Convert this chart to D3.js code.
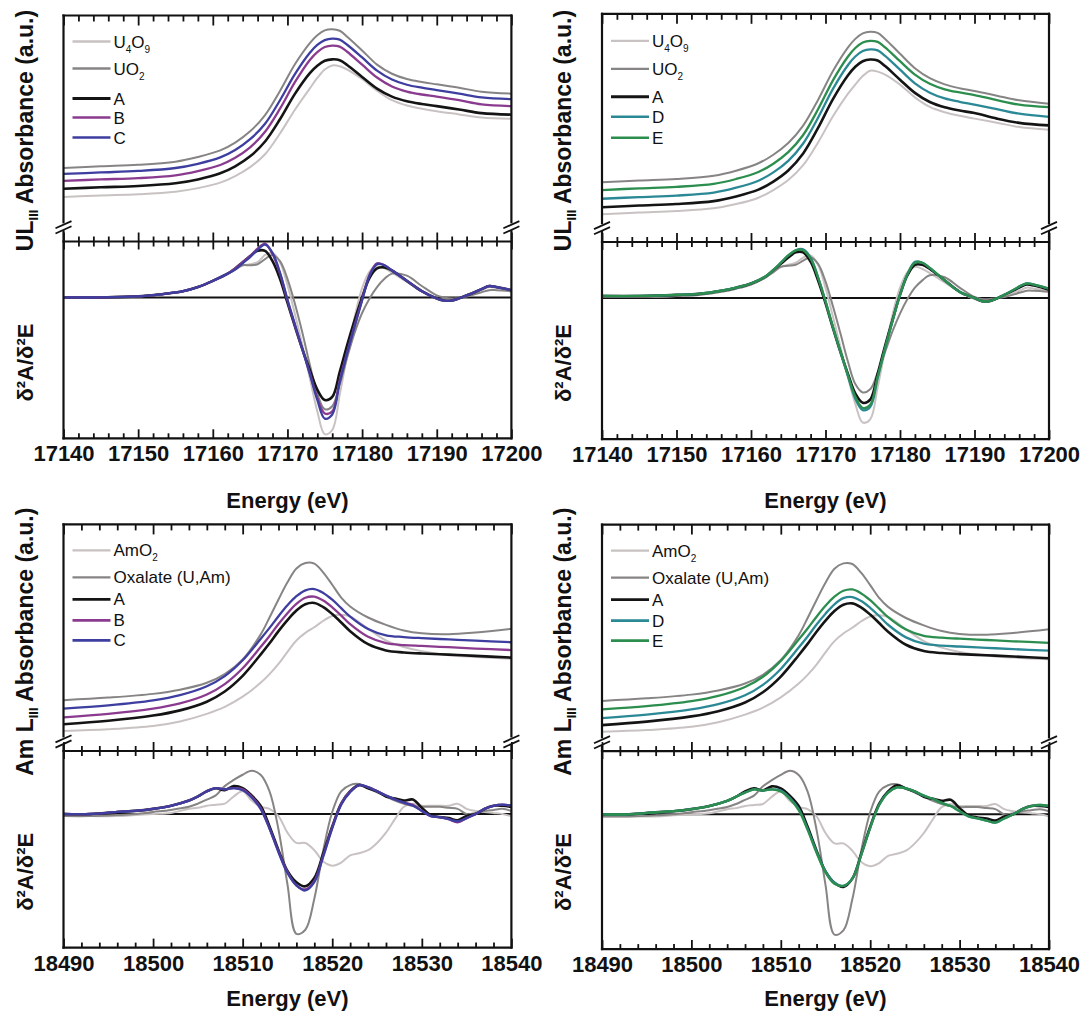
<!DOCTYPE html>
<html><head><meta charset="utf-8">
<script src="https://cdn.jsdelivr.net/npm/d3@7"></script>
<style>
body{margin:0;background:#fff;}
svg{display:block;}
</style></head><body>
<svg id="chart" width="1082" height="1012"></svg>
<script>
// ================= DATA =================
// U L-III edge, absorbance (a.u.)
const energyU = [17140,17145,17150,17155,17158,17161,17163,17165,17167,17169,17171,17173,17174,17175,17176,17177,17178,17180,17182,17184,17186,17188,17190,17193,17196,17200];
const absU4O9_L = [14.3,15.0,15.6,16.8,18.5,21.1,24.2,28.4,34.5,44.3,55.5,65.6,70.5,74.5,76.4,76.0,74.5,70.0,64.5,60.0,57.5,56.0,54.8,53.3,51.8,51.2];
const absUO2_L  = [28.0,28.8,29.5,31.0,33.2,36.3,40.0,45.3,53.0,64.4,77.0,87.0,90.7,93.0,93.5,92.8,90.0,83.5,76.8,72.5,70.0,68.6,67.5,65.9,64.0,63.1];
const absA_L    = [18.2,18.9,19.5,20.8,22.6,25.5,28.8,33.5,40.5,51.0,63.0,72.8,76.3,78.6,79.3,78.9,76.6,71.0,65.5,61.7,59.5,58.2,57.2,55.6,53.9,53.2];
const absB_L    = [21.9,22.6,23.2,24.5,26.5,29.4,32.8,37.7,45.1,56.0,68.5,79.0,82.7,85.1,85.8,85.3,82.9,76.8,70.7,66.5,64.1,62.7,61.7,60.0,58.0,57.2];
const absC_L    = [25.2,25.9,26.6,28.0,30.0,33.0,36.5,41.6,48.9,60.0,72.3,82.4,86.1,88.4,89.1,88.6,86.2,80.2,74.0,69.8,67.3,65.9,64.8,63.1,61.3,60.5];
const absU4O9_R = [6.5,7.3,8.0,9.3,11.3,14.3,17.9,22.6,29.6,40.3,52.6,63.1,67.5,71.5,74.0,73.6,72.2,67.5,61.5,57.0,54.5,52.8,51.5,49.6,47.5,46.3];
const absUO2_R  = [21.6,22.4,23.1,24.6,27.0,30.5,34.5,40.0,48.2,60.3,73.9,84.9,89.0,91.6,92.4,91.8,89.0,82.0,75.2,70.5,67.6,65.8,64.5,62.3,60.1,58.5];
const absA_R    = [9.8,10.6,11.3,12.7,14.9,18.1,21.9,27.1,35.1,47.1,60.7,71.8,75.9,78.5,79.3,78.8,76.2,69.8,63.6,59.3,56.8,55.3,54.1,51.5,49.5,48.3];
const absD_R    = [13.8,14.6,15.3,16.7,19.0,22.3,26.2,31.6,39.8,51.9,65.5,76.6,80.7,83.3,84.1,83.6,81.0,74.5,68.1,63.7,61.0,59.4,58.1,56.0,53.8,52.3];
const absE_R    = [17.9,18.7,19.4,20.8,23.1,26.4,30.3,35.7,43.8,55.9,69.5,80.6,84.7,87.3,88.1,87.6,85.0,78.5,72.2,67.9,65.3,63.8,62.6,60.2,58.1,56.9];

// U L-III edge, second derivative
const energyUd = [17140,17145,17150,17153,17156,17158,17160,17162,17163,17164,17165,17166,17167,17168,17169,17170,17171,17172,17173,17174,17175,17176,17177,17178,17179,17180,17181,17182,17183,17184,17186,17188,17190,17191,17192,17194,17196,17197,17198,17200];
const derU4O9_L = [0.0,0.0,0.1,0.3,0.6,1.0,1.6,2.3,2.7,3.1,3.2,3.4,4.1,4.3,3.4,1.2,-1.6,-4.6,-7.8,-11.0,-13.2,-12.8,-9.4,-5.6,-1.9,0.9,2.5,3.0,2.8,2.4,1.5,0.6,-0.1,-0.3,-0.3,0.2,0.7,1.0,0.9,0.7];
const derUO2_L  = [0.0,0.0,0.1,0.3,0.6,1.0,1.6,2.3,2.7,3.1,3.1,3.2,3.7,4.1,3.5,1.8,-0.6,-3.4,-6.5,-9.3,-10.8,-10.5,-8.4,-5.8,-3.4,-1.5,-0.1,1.0,1.8,2.3,2.1,1.1,0.2,0.0,-0.1,0.1,0.5,0.7,0.7,0.6];
const derA_L    = [0.0,0.0,0.1,0.3,0.6,1.0,1.6,2.3,2.8,3.4,4.0,4.5,4.5,3.5,1.8,-0.5,-2.8,-5.0,-7.0,-8.9,-9.9,-9.6,-7.2,-4.6,-2.2,0.0,1.9,2.8,2.9,2.6,1.6,0.6,-0.1,-0.3,-0.3,0.2,0.8,1.1,1.0,0.7];
const derB_L    = [0.0,0.0,0.1,0.3,0.6,1.0,1.6,2.3,2.8,3.4,4.0,4.7,5.2,4.2,2.3,-0.3,-2.7,-5.0,-7.3,-9.7,-11.2,-11.0,-8.0,-5.3,-2.7,-0.2,2.2,3.3,3.1,2.6,1.6,0.6,-0.1,-0.3,-0.3,0.2,0.8,1.1,1.0,0.7];
const derC_L    = [0.0,0.0,0.1,0.3,0.6,1.0,1.6,2.3,2.7,3.3,3.9,4.6,5.1,4.3,2.4,-0.2,-2.6,-5.0,-7.4,-9.9,-11.7,-11.3,-8.2,-5.4,-2.8,-0.3,2.1,3.2,3.1,2.6,1.6,0.6,-0.1,-0.3,-0.3,0.2,0.8,1.1,1.0,0.7];
const derU4O9_R = [0.1,0.1,0.2,0.3,0.6,0.9,1.3,2.0,2.5,3.0,3.2,3.4,3.9,4.1,3.2,1.0,-1.8,-4.7,-7.6,-10.2,-12.0,-11.7,-8.6,-5.0,-1.6,1.0,2.5,3.0,2.8,2.4,1.5,0.6,-0.1,-0.3,-0.3,0.2,0.7,1.0,0.9,0.7];
const derUO2_R  = [0.1,0.1,0.2,0.3,0.6,0.9,1.3,2.0,2.5,3.0,3.1,3.2,3.6,3.9,3.3,1.6,-0.8,-3.4,-6.1,-8.3,-9.1,-8.8,-7.2,-5.2,-3.2,-1.5,-0.1,1.0,1.7,2.2,2.0,1.0,0.1,-0.1,-0.1,0.1,0.5,0.7,0.7,0.6];
const derA_R    = [0.2,0.2,0.3,0.4,0.7,1.0,1.4,2.1,2.7,3.3,3.9,4.4,4.4,3.5,1.7,-0.5,-2.9,-5.2,-7.3,-9.2,-10.1,-9.8,-7.3,-4.6,-2.1,0.3,2.2,3.2,3.2,2.8,1.7,0.6,0.0,-0.3,-0.3,0.3,1.0,1.3,1.2,0.8];
const derD_R    = [0.2,0.2,0.3,0.4,0.7,1.0,1.4,2.1,2.7,3.4,4.1,4.6,4.7,3.9,2.0,-0.3,-2.8,-5.2,-7.5,-9.7,-10.8,-10.5,-7.7,-4.9,-2.2,0.3,2.3,3.5,3.4,2.9,1.7,0.6,0.0,-0.3,-0.3,0.3,1.1,1.4,1.3,0.9];
const derE_R    = [0.2,0.2,0.3,0.4,0.7,1.0,1.4,2.1,2.7,3.4,4.1,4.6,4.6,3.8,2.0,-0.3,-2.8,-5.1,-7.4,-9.5,-10.6,-10.3,-7.6,-4.8,-2.2,0.3,2.3,3.4,3.4,2.9,1.7,0.6,0.0,-0.3,-0.3,0.3,1.1,1.4,1.3,0.9];

// Am L-III edge, absorbance (a.u.)
const energyAm = [18490,18495,18500,18503,18506,18508,18510,18512,18513,18514,18515,18516,18517,18518,18519,18520,18521,18522,18524,18526,18528,18530,18533,18536,18540];
const absAmO2     = [4.8,5.6,7.1,9.2,12.7,15.9,20.6,27.0,31.0,35.7,41.3,46.5,50.0,52.6,55.6,57.8,58.4,57.6,52.0,46.5,43.5,41.5,39.7,38.9,38.1];
const absOxalate  = [19.0,20.2,21.9,23.8,27.0,31.0,37.8,49.2,57.1,65.4,73.3,79.7,82.2,81.9,77.8,72.2,66.3,62.2,57.1,53.7,51.1,49.8,49.4,50.2,51.9];
const absA_Am     = [7.9,9.5,11.9,14.3,18.3,23.0,30.2,40.0,45.2,50.8,55.9,60.3,63.2,63.8,61.9,58.7,54.8,50.8,44.8,41.9,41.0,40.5,40.0,39.4,38.6];
const absB_Am     = [11.1,12.7,15.1,17.5,21.6,26.4,33.7,43.5,48.6,54.1,59.1,63.4,66.2,66.7,64.9,61.8,58.0,54.0,48.2,45.3,44.4,44.0,43.4,42.8,42.1];
const absC_Am     = [15.1,16.6,18.9,21.3,25.4,30.1,37.4,47.2,52.3,57.7,62.7,66.9,69.6,70.2,68.4,65.3,61.4,57.5,51.8,48.9,48.1,47.6,47.0,46.4,45.7];
const absD_Am     = [11.1,12.7,15.1,17.5,21.6,26.4,33.7,43.5,48.6,54.1,59.1,63.4,66.2,66.7,64.9,61.8,58.0,54.0,48.2,45.3,44.4,44.0,43.4,42.8,42.1];
const absE_Am     = [15.1,16.6,18.9,21.3,25.4,30.1,37.4,47.2,52.3,57.7,62.7,66.9,69.6,70.2,68.4,65.3,61.4,57.5,51.8,48.9,48.1,47.6,47.0,46.4,45.7];

// Am L-III edge, second derivative
const energyAmd = [18490,18493,18496,18498,18500,18502,18504,18505,18506,18507,18508,18509,18510,18511,18512,18513,18514,18515,18516,18517,18518,18519,18520,18521,18522,18523,18524,18525,18526,18527,18528,18529,18530,18531,18532,18533,18534,18535,18536,18537,18538,18539,18540];
const derAmO2    = [-0.2,-0.2,-0.2,-0.1,0.0,0.1,0.5,0.6,0.8,0.9,1.0,1.7,2.2,1.3,0.7,0.5,-0.2,-1.8,-2.8,-2.8,-3.5,-4.6,-5.0,-4.7,-4.0,-3.8,-3.5,-2.8,-1.8,-0.5,0.7,1.0,0.8,0.8,0.8,0.8,1.0,0.5,0.3,0.2,0.1,0.0,-0.2];
const derOxalate = [-0.2,-0.2,-0.1,0.0,0.2,0.4,0.7,1.0,1.4,1.8,2.7,3.3,3.8,4.2,3.8,2.2,-1.5,-6.8,-11.6,-11.2,-8.2,-3.5,0.2,2.2,2.8,2.9,2.5,2.1,1.7,1.3,1.0,0.8,0.7,0.7,0.7,0.6,0.5,0.0,0.1,0.3,0.4,0.5,0.3];
const derA_Am    = [0.0,0.0,0.2,0.3,0.5,0.8,1.3,1.7,2.2,2.5,2.3,2.7,2.5,1.8,0.8,-1.2,-3.5,-5.5,-6.6,-7.0,-6.2,-3.8,-1.2,1.0,2.2,2.8,2.5,2.2,1.7,1.5,1.3,1.4,0.6,-0.1,-0.3,-0.4,-0.6,-0.2,0.0,0.5,0.8,0.8,0.7];
const derB_Am    = [0.0,0.0,0.2,0.3,0.5,0.8,1.3,1.7,2.2,2.5,2.4,2.5,2.4,1.7,0.6,-1.4,-3.6,-5.6,-6.9,-7.3,-6.5,-4.0,-1.3,1.0,2.2,2.8,2.6,2.2,1.8,1.4,1.1,0.9,0.3,-0.2,-0.3,-0.5,-0.8,-0.4,0.0,0.5,0.8,0.9,0.8];
const derC_Am    = [0.0,0.0,0.2,0.3,0.5,0.8,1.3,1.7,2.2,2.5,2.4,2.5,2.3,1.6,0.5,-1.4,-3.7,-5.7,-6.9,-7.4,-6.6,-4.1,-1.4,0.9,2.1,2.8,2.6,2.2,1.8,1.4,1.1,0.8,0.3,-0.2,-0.3,-0.5,-0.7,-0.4,0.0,0.5,0.8,0.9,0.8];
const derD_Am    = [0.0,0.0,0.2,0.3,0.5,0.8,1.3,1.7,2.1,2.4,2.3,2.4,2.3,1.6,0.5,-1.4,-3.6,-5.5,-6.6,-6.9,-6.2,-3.9,-1.3,0.9,2.1,2.6,2.5,2.2,1.8,1.5,1.1,0.8,0.3,-0.2,-0.4,-0.6,-0.8,-0.4,0.0,0.5,0.8,0.9,0.8];
const derE_Am    = [0.0,0.0,0.2,0.3,0.5,0.8,1.3,1.7,2.1,2.4,2.3,2.4,2.2,1.5,0.4,-1.5,-3.7,-5.6,-6.7,-6.9,-6.2,-3.9,-1.3,0.9,2.1,2.6,2.5,2.2,1.8,1.5,1.1,0.8,0.3,-0.2,-0.4,-0.6,-0.8,-0.4,0.0,0.5,0.8,0.9,0.8];

// axis tick labels
const tickLabelsU  = [17140,17150,17160,17170,17180,17190,17200];
const tickLabelsAm = [18490,18500,18510,18520,18530,18540];

// ================= STYLE / LAYOUT =================
const FONT = '"Liberation Sans", Arial, Helvetica, sans-serif';
const COL = {ref1:'#c9c2c2', ref2:'#878484', A:'#141414', B:'#8b3b8f', C:'#3d3e9f', D:'#2b8996', E:'#2c8e4e'};
const W = {ref:2.0, A:2.6, s:2.3};

const panels = [
  {x0:63.5, x1:511.4, top:15.5, brk:227.3, upDom:[0,100], lTop:241.5, lBot:438.3, lowDom:[-13.6,5.4],
   xDom:[17140,17200], majors:tickLabelsU, eAbs:energyU, eDer:energyUd, xLab:508,
   yParts:[['UL',0],['III',1],[' Absorbance (a.u.)',0]], yCenter:130.5, dCenter:362.6, rows:[26,53,83,102,122],
   series:[
     {label:'U4O9', abs:absU4O9_L, der:derU4O9_L, c:COL.ref1, w:W.ref},
     {label:'UO2',  abs:absUO2_L,  der:derUO2_L,  c:COL.ref2, w:W.ref},
     {label:'A',    abs:absA_L,    der:derA_L,    c:COL.A,    w:W.A},
     {label:'B',    abs:absB_L,    der:derB_L,    c:COL.B,    w:W.s},
     {label:'C',    abs:absC_L,    der:derC_L,    c:COL.C,    w:W.s}]},
  {x0:602, x1:1049, top:13.8, brk:228.1, upDom:[0,100.8], lTop:242, lBot:439.1, lowDom:[-13.6,5.4],
   xDom:[17140,17200], majors:tickLabelsU, eAbs:energyU, eDer:energyUd, xLab:508,
   yParts:[['UL',0],['III',1],[' Absorbance (a.u.)',0]], yCenter:130.5, dCenter:363, rows:[27,55,83,103,124],
   series:[
     {label:'U4O9', abs:absU4O9_R, der:derU4O9_R, c:COL.ref1, w:W.ref},
     {label:'UO2',  abs:absUO2_R,  der:derUO2_R,  c:COL.ref2, w:W.ref},
     {label:'A',    abs:absA_R,    der:derA_R,    c:COL.A,    w:W.A},
     {label:'D',    abs:absD_R,    der:derD_R,    c:COL.D,    w:W.s},
     {label:'E',    abs:absE_R,    der:derE_R,    c:COL.E,    w:W.s}]},
  {x0:63.5, x1:511.4, top:524.4, brk:741.4, upDom:[0,100], lTop:751, lBot:947.6, lowDom:[-12.93,6.1],
   xDom:[18490,18540], majors:tickLabelsAm, eAbs:energyAm, eDer:energyAmd, xLab:1006,
   yParts:[['Am L',0],['III',1],[' Absorbance (a.u.)',0]], yCenter:641.7, dCenter:871.8, rows:[26,53,75,96,116],
   series:[
     {label:'AmO2', abs:absAmO2, der:derAmO2, c:COL.ref1, w:W.ref},
     {label:'Oxalate (U,Am)', abs:absOxalate, der:derOxalate, c:COL.ref2, w:W.ref},
     {label:'A', abs:absA_Am, der:derA_Am, c:COL.A, w:W.A},
     {label:'B', abs:absB_Am, der:derB_Am, c:COL.B, w:W.s},
     {label:'C', abs:absC_Am, der:derC_Am, c:COL.C, w:W.s}]},
  {x0:602, x1:1049, top:524.6, brk:742.3, upDom:[0,100], lTop:751.1, lBot:949.1, lowDom:[-13.0,6.1],
   xDom:[18490,18540], majors:tickLabelsAm, eAbs:energyAm, eDer:energyAmd, xLab:1006,
   yParts:[['Am L',0],['III',1],[' Absorbance (a.u.)',0]], yCenter:641.7, dCenter:872, rows:[26,53,75,96,116],
   series:[
     {label:'AmO2', abs:absAmO2, der:derAmO2, c:COL.ref1, w:W.ref},
     {label:'Oxalate (U,Am)', abs:absOxalate, der:derOxalate, c:COL.ref2, w:W.ref},
     {label:'A', abs:absA_Am, der:derA_Am, c:COL.A, w:W.A},
     {label:'D', abs:absD_Am, der:derD_Am, c:COL.D, w:W.s},
     {label:'E', abs:absE_Am, der:derE_Am, c:COL.E, w:W.s}]}
];

// ================= DRAW =================
const svg = d3.select('#chart').style('font-family', FONT);
svg.append('rect').attr('width',1082).attr('height',1012).attr('fill','#fff');

const INK = '#111';

function drawPanel(p, pi) {
  const g = svg.append('g');
  const x  = d3.scaleLinear().domain(p.xDom).range([p.x0, p.x1]);
  const yU = d3.scaleLinear().domain(p.upDom).range([p.brk, p.top]);
  const yL = d3.scaleLinear().domain(p.lowDom).range([p.lBot, p.lTop]);
  const minors = d3.range(p.xDom[0], p.xDom[1] + 0.01, 2).filter(v => v % 10 !== 0);

  const clipId = 'clipL' + pi;
  g.append('clipPath').attr('id', clipId).append('rect')
    .attr('x', p.x0).attr('y', p.lTop).attr('width', p.x1 - p.x0).attr('height', p.lBot - p.lTop);

  // zero line of derivative panel
  g.append('line').attr('x1', p.x0).attr('x2', p.x1).attr('y1', yL(0)).attr('y2', yL(0))
    .attr('stroke', INK).attr('stroke-width', 2);

  const lineU = d3.line().x((d, i) => x(p.eAbs[i])).y(d => yU(d)).curve(d3.curveCatmullRom.alpha(0.5));
  const lineL = d3.line().x((d, i) => x(p.eDer[i])).y(d => yL(d)).curve(d3.curveCatmullRom.alpha(0.5));
  p.series.forEach(s => {
    g.append('path').attr('d', lineU(s.abs)).attr('fill', 'none')
      .attr('stroke', s.c).attr('stroke-width', s.w).attr('stroke-linejoin', 'round');
  });
  const gl = g.append('g').attr('clip-path', `url(#${clipId})`);
  p.series.forEach(s => {
    gl.append('path').attr('d', lineL(s.der)).attr('fill', 'none')
      .attr('stroke', s.c).attr('stroke-width', s.w).attr('stroke-linejoin', 'round');
  });

  function ticks(axisFn, vals, size, y, labels) {
    const ax = axisFn(x).tickValues(vals).tickSize(size)
      .tickFormat(labels ? d3.format('d') : () => '').tickPadding(7.5);
    const a = g.append('g').attr('transform', `translate(0,${y})`).call(ax);
    a.select('.domain').remove();
    a.selectAll('line').attr('stroke', INK).attr('stroke-width', 1.8);
    a.selectAll('text').attr('fill', INK).style('font-family', FONT)
      .style('font-size', '22px').style('font-weight', 'bold');
    return a;
  }
  ticks(d3.axisBottom, p.majors, 10, p.top, false);
  ticks(d3.axisBottom, minors, 6, p.top, false);
  ticks(d3.axisTop, p.majors, 9, p.lTop, false);
  ticks(d3.axisTop, minors, 5, p.lTop, false);
  ticks(d3.axisBottom, p.majors, 8, p.lTop, false);
  ticks(d3.axisBottom, minors, 5, p.lTop, false);
  ticks(d3.axisBottom, p.majors, -9, p.lBot, true);
  ticks(d3.axisBottom, minors, -5, p.lBot, false);

  const fr = (x1, y1, x2, y2) => g.append('line').attr('x1', x1).attr('y1', y1).attr('x2', x2).attr('y2', y2)
      .attr('stroke', INK).attr('stroke-width', 2.2).attr('stroke-linecap', 'square');
  fr(p.x0, p.top, p.x1, p.top);
  fr(p.x0, p.lTop, p.x1, p.lTop);
  fr(p.x0, p.lBot, p.x1, p.lBot);
  [p.x0, p.x1].forEach(xx => {
    fr(xx, p.top, xx, p.brk - 5);
    fr(xx, p.brk + 4, xx, p.lBot);
    [-2.6, 2.6].forEach(o => {
      g.append('line').attr('x1', xx - 8).attr('y1', p.brk + o + 3.6)
        .attr('x2', xx + 8).attr('y2', p.brk + o - 3.6)
        .attr('stroke', INK).attr('stroke-width', 1.8);
    });
  });

  // legend
  const lg = g.append('g');
  p.series.forEach((s, i) => {
    const yy = p.top + p.rows[i];
    lg.append('line').attr('x1', p.x0 + 9).attr('x2', p.x0 + 47).attr('y1', yy).attr('y2', yy)
      .attr('stroke', s.c).attr('stroke-width', s.w + 0.3);
    const t = lg.append('text').attr('x', p.x0 + 50).attr('y', yy + 6)
      .attr('fill', INK).style('font-size', '17px');
    const parts = s.label.match(/\d+|\D+/g);
    let shifted = false;
    parts.forEach(part => {
      const isSub = /^\d+$/.test(part);
      const ts = t.append('tspan').text(part);
      if (isSub) { ts.attr('dy', 5).style('font-size', '10px'); shifted = true; }
      else if (shifted) { ts.attr('dy', -5); shifted = false; }
    });
  });

  // y labels
  const yl = g.append('text')
    .attr('transform', `translate(${p.x0 - 31},${p.yCenter}) rotate(-90)`)
    .attr('text-anchor', 'middle').attr('fill', INK)
    .style('font-size', '23px').style('font-weight', 'bold');
  let sh = false;
  p.yParts.forEach(([txt, sub]) => {
    const ts = yl.append('tspan').text(txt);
    if (sub) { ts.attr('dy', 5).style('font-size', '13px'); sh = true; }
    else if (sh) { ts.attr('dy', -5); sh = false; }
  });
  g.append('text')
    .attr('transform', `translate(${p.x0 - 31},${p.dCenter}) rotate(-90)`)
    .attr('text-anchor', 'middle').attr('fill', INK)
    .style('font-size', '22px').style('font-weight', 'bold')
    .text('δ²A/δ²E');

  // x label
  g.append('text').attr('x', (p.x0 + p.x1) / 2).attr('y', p.xLab)
    .attr('text-anchor', 'middle').attr('fill', INK)
    .style('font-size', '22px').style('font-weight', 'bold')
    .text('Energy (eV)');
}

panels.forEach(drawPanel);
</script>
</body></html>
